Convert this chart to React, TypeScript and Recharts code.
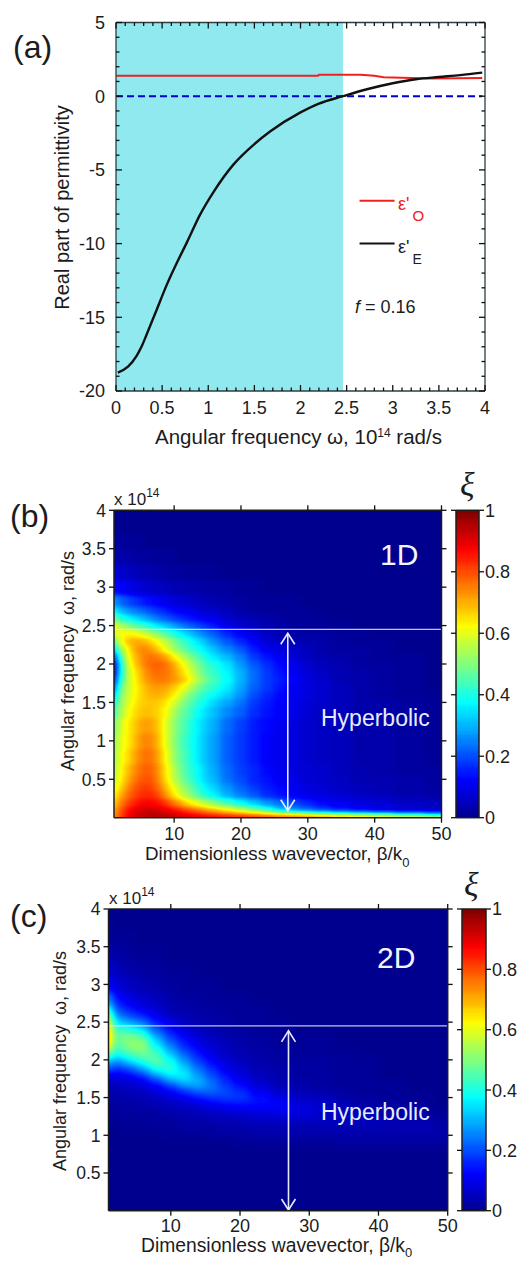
import { ComposedChart, Line, ReferenceArea, ReferenceLine, Scatter, ScatterChart, XAxis, YAxis } from 'recharts';

// panel (a)
const redOmega = [0, 0.5, 1, 1.5, 2.19, 2.2, 2.65, 2.8, 2.9, 3.0, 3.2, 3.4, 3.7, 3.97];
const redEps = [1.38, 1.38, 1.38, 1.38, 1.38, 1.45, 1.45, 1.38, 1.29, 1.27, 1.24, 1.2, 1.22, 1.24];
const blackOmega = [0.02, 0.13, 0.22, 0.28, 0.33, 0.44, 0.55, 0.66, 0.77, 0.91, 1.06, 1.27, 1.5, 1.67, 2, 2.2, 2.46, 2.72, 3, 3.25, 3.5, 3.73, 3.97];
const blackEps = [-18.75, -18.35, -17.65, -16.95, -16.2, -14.5, -12.8, -11.3, -9.9, -8.05, -6.47, -4.66, -3.25, -2.4, -1.1, -0.5, 0, 0.47, 0.88, 1.15, 1.3, 1.43, 1.6];
const aXTicks = [0, 0.1, 0.2, 0.3, 0.4, 0.5, 0.6, 0.7, 0.8, 0.9, 1, 1.1, 1.2, 1.3, 1.4, 1.5, 1.6, 1.7, 1.8, 1.9, 2, 2.1, 2.2, 2.3, 2.4, 2.5, 2.6, 2.7, 2.8, 2.9, 3, 3.1, 3.2, 3.3, 3.4, 3.5, 3.6, 3.7, 3.8, 3.9, 4];
const aXMajor = [0, 0.5, 1, 1.5, 2, 2.5, 3, 3.5, 4];
const aYTicks = [-20, -19, -18, -17, -16, -15, -14, -13, -12, -11, -10, -9, -8, -7, -6, -5, -4, -3, -2, -1, 0, 1, 2, 3, 4, 5];
const aYMajor = [-20, -15, -10, -5, 0, 5];

// panels (b) and (c), rows run upward in omega, values in percent of xi, short rows end in zeros
const betaTicks = [10, 20, 30, 40, 50];
const omegaTicks = [0.5, 1, 1.5, 2, 2.5, 3, 3.5, 4];
const barTicks = [0, 0.2, 0.4, 0.6, 0.8, 1];
const barLevels = [0, 5, 10, 15, 20, 25, 30, 35, 40, 45, 50, 55, 60, 65, 70, 75, 80, 85, 90, 95, 100];

const beta1D = [1, 2, 3, 4, 5, 6, 7, 8, 9, 10, 11, 12, 13, 14, 15, 16, 18, 20, 22, 24, 26, 28, 30, 32, 35, 38, 41, 45, 50];
const omega1D = [0.02, 0.05, 0.1, 0.2, 0.3, 0.4, 0.5, 0.6, 0.8, 1, 1.2, 1.4, 1.5, 1.6, 1.7, 1.8, 1.9, 2, 2.1, 2.2, 2.3, 2.4, 2.5, 2.6, 2.7, 2.8, 3, 3.2, 3.4, 3.6, 3.8, 4];
const xi1D = [
  [72, 80, 87, 91, 93, 94, 95, 95, 95, 94, 93, 92, 91, 90, 89, 88, 86, 85, 83, 81, 79, 78, 76, 74, 72, 70, 67, 64, 60],
  [72, 80, 87, 91, 93, 94, 94, 94, 93, 92, 90, 88, 87, 85, 83, 82, 79, 76, 73, 69, 66, 63, 60, 57, 52, 47, 43, 38, 32],
  [70, 78, 85, 89, 91, 92, 92, 91, 89, 86, 83, 80, 77, 74, 71, 68, 63, 57, 50, 42, 33, 27, 23, 19, 15, 12, 10, 8, 7],
  [66, 74, 80, 84, 87, 88, 87, 85, 81, 76, 71, 66, 62, 58, 54, 50, 44, 38, 32, 27, 23, 19, 16, 13, 11, 9, 8, 6, 5],
  [62, 70, 76, 80, 83, 84, 83, 79, 72, 65, 59, 54, 49, 44, 40, 36, 30, 25, 21, 17, 14, 12, 10, 9, 8, 6, 5, 4, 3],
  [58, 66, 73, 78, 81, 82, 80, 75, 68, 61, 55, 50, 45, 40, 36, 33, 27, 22, 18, 15, 13, 11, 9, 8, 6, 5, 4, 3, 2],
  [55, 63, 70, 75, 79, 80, 78, 72, 64, 57, 51, 46, 41, 37, 33, 30, 24, 20, 16, 14, 11, 10, 8, 7, 6, 4, 4, 3, 2],
  [53, 62, 68, 73, 77, 79, 77, 71, 63, 56, 49, 44, 40, 36, 32, 29, 23, 19, 16, 13, 11, 9, 8, 7, 5, 4, 3, 2, 2],
  [51, 61, 65, 70, 75, 77, 75, 69, 61, 53, 47, 43, 38, 34, 31, 28, 22, 18, 15, 12, 10, 9, 7, 6, 5, 3, 3, 2, 1],
  [50, 60, 63, 68, 73, 75, 73, 67, 59, 52, 46, 42, 38, 34, 31, 28, 22, 18, 15, 12, 10, 9, 7, 6, 5, 3, 3, 2, 1],
  [47, 58, 63, 67, 71, 72, 71, 66, 59, 52, 47, 43, 39, 35, 32, 29, 23, 19, 15, 13, 11, 9, 7, 6, 5, 3, 3, 2, 1],
  [42, 54, 60, 65, 68, 69, 68, 66, 61, 55, 49, 45, 41, 37, 34, 31, 26, 22, 17, 14, 12, 10, 8, 6, 5, 3, 3, 2, 1],
  [36, 52, 58, 63, 67, 68, 68, 67, 64, 59, 53, 48, 44, 40, 37, 33, 29, 24, 18, 15, 12, 10, 8, 7, 5, 3, 3, 2, 1],
  [28, 50, 57, 62, 66, 69, 70, 70, 68, 64, 58, 52, 47, 43, 40, 37, 33, 27, 20, 16, 13, 11, 9, 7, 5, 3, 2, 1, 1],
  [20, 46, 56, 61, 66, 70, 72, 72, 71, 68, 64, 58, 53, 48, 44, 41, 36, 29, 22, 18, 14, 11, 9, 7, 5, 3, 2, 1],
  [12, 40, 55, 62, 68, 73, 75, 76, 75, 73, 70, 65, 59, 53, 48, 44, 38, 30, 23, 18, 15, 12, 9, 7, 4, 3, 2, 1],
  [8, 36, 54, 63, 69, 74, 77, 77, 76, 73, 68, 62, 56, 50, 45, 42, 37, 30, 23, 18, 14, 11, 8, 6, 4, 3, 2, 1],
  [8, 36, 56, 66, 72, 76, 78, 78, 76, 71, 65, 59, 53, 48, 43, 40, 35, 28, 21, 17, 13, 10, 7, 5, 4, 2, 2, 1],
  [16, 42, 59, 68, 73, 76, 76, 74, 70, 64, 58, 53, 48, 43, 39, 35, 31, 25, 18, 14, 11, 8, 6, 4, 3, 2, 1, 1],
  [30, 52, 62, 70, 74, 74, 71, 66, 60, 54, 49, 45, 41, 38, 35, 31, 26, 21, 15, 11, 9, 7, 5, 3, 2, 2, 1],
  [45, 60, 68, 71, 71, 69, 65, 60, 55, 50, 45, 41, 37, 34, 30, 26, 21, 16, 12, 8, 6, 5, 4, 3, 2, 1, 1],
  [58, 62, 63, 63, 60, 57, 53, 49, 45, 41, 37, 34, 30, 27, 24, 21, 16, 12, 9, 6, 4, 3, 2, 2, 1, 1],
  [62, 55, 52, 48, 45, 42, 38, 35, 32, 29, 26, 23, 21, 19, 17, 15, 11, 8, 6, 4, 3, 2, 1, 1, 1],
  [50, 42, 38, 35, 32, 29, 26, 23, 21, 19, 17, 15, 14, 12, 11, 10, 7, 5, 4, 3, 2, 1, 1, 1],
  [38, 31, 28, 25, 23, 21, 19, 17, 15, 13, 12, 11, 10, 8, 7, 7, 5, 3, 2, 1, 1, 1, 1],
  [28, 23, 20, 18, 16, 14, 13, 11, 10, 9, 8, 7, 6, 5, 5, 4, 3, 2, 1, 1, 1, 1],
  [14, 12, 11, 9, 8, 7, 6, 6, 5, 4, 4, 3, 3, 3, 2, 2, 2, 1, 1],
  [8, 7, 6, 5, 4, 4, 3, 3, 2, 2, 2, 1, 1, 1, 1, 1],
  [4, 3, 3, 2, 2, 2, 1, 1, 1, 1],
  [2, 2, 1, 1, 1],
  [1],
  [0],
];

const beta2D = [1, 2, 3, 4, 5, 6, 8, 10, 12, 14, 16, 18, 20, 23, 26, 29, 32, 35, 38, 42, 46, 50];
const omega2D = [0.4, 0.8, 0.9, 1, 1.1, 1.2, 1.3, 1.4, 1.5, 1.6, 1.7, 1.8, 1.9, 2, 2.1, 2.2, 2.3, 2.4, 2.5, 2.6, 2.7, 2.8, 3, 3.2, 3.4, 3.6, 3.8, 4];
const xi2D = [
  [0],
  [0],
  [0, 0, 0, 0, 0, 0, 0, 0, 0, 0, 0, 0, 1, 1, 1, 1, 1, 2, 2, 2, 2, 2],
  [0, 0, 0, 0, 0, 0, 0, 1, 1, 1, 2, 2, 2, 3, 3, 3, 3, 3, 3, 3, 3, 3],
  [0, 0, 1, 1, 1, 1, 1, 1, 2, 2, 2, 3, 3, 4, 4, 4, 4, 4, 4, 4, 4, 3],
  [1, 1, 1, 1, 1, 1, 2, 2, 3, 3, 4, 4, 5, 6, 6, 6, 6, 5, 5, 4, 4, 2],
  [1, 1, 2, 2, 2, 2, 2, 3, 4, 5, 6, 7, 8, 9, 10, 9, 7, 5, 4, 3, 2, 1],
  [2, 2, 2, 2, 3, 3, 4, 5, 6, 8, 10, 12, 13, 13, 12, 9, 7, 5, 3, 2, 1],
  [3, 3, 3, 3, 4, 4, 6, 8, 11, 14, 17, 18, 18, 14, 10, 6, 5, 3, 2, 1, 1],
  [4, 4, 4, 5, 6, 6, 9, 13, 18, 23, 23, 20, 16, 10, 6, 4, 3, 2, 1, 1],
  [6, 6, 7, 7, 8, 10, 15, 23, 31, 31, 24, 17, 12, 7, 4, 3, 2, 1, 1, 1],
  [12, 10, 11, 12, 14, 18, 28, 37, 37, 28, 20, 14, 9, 5, 3, 2, 2, 1, 1],
  [22, 18, 19, 22, 26, 31, 41, 42, 33, 23, 16, 10, 7, 4, 3, 2, 2, 1, 1],
  [35, 28, 31, 35, 39, 43, 47, 39, 27, 18, 12, 8, 5, 3, 2, 2, 2, 1, 1],
  [55, 38, 43, 46, 48, 49, 44, 31, 21, 14, 9, 6, 4, 3, 2, 1, 1, 1],
  [70, 43, 48, 51, 53, 52, 37, 25, 16, 11, 7, 5, 3, 2, 1, 1, 1],
  [74, 46, 49, 51, 50, 46, 30, 19, 13, 8, 6, 4, 3, 2, 1, 1, 1],
  [72, 44, 44, 42, 40, 35, 22, 14, 9, 6, 4, 3, 2, 1, 1],
  [68, 36, 32, 30, 27, 24, 15, 10, 6, 4, 3, 2, 1, 1, 1],
  [58, 27, 23, 20, 17, 15, 10, 6, 4, 3, 2, 2, 1, 1],
  [42, 20, 17, 14, 12, 10, 7, 4, 3, 2, 2, 1, 1, 1],
  [28, 15, 12, 10, 8, 7, 5, 3, 2, 2, 1, 1, 1],
  [13, 9, 7, 6, 5, 4, 3, 2, 1, 1, 1],
  [7, 5, 4, 3, 3, 2, 2, 1, 1],
  [4, 3, 2, 2, 1, 1, 1],
  [2, 1, 1, 1],
  [1],
  [0],
];

const FONT = '"Liberation Sans", Arial, sans-serif';
const INK = '#1c1c1c';

// jet lookup applied to grey levels, so the blur happens in value space
const JET_R = '0 0 0 0 .5 1 1 1 .5';
const JET_G = '0 0 .5 1 1 1 .5 0 0';
const JET_B = '.56 1 1 1 .5 0 0 0 0';

type TickOpts = { side: 'left' | 'right' | 'top' | 'bottom'; major?: number[]; labels?: boolean; inward?: boolean; long?: number; short?: number; gap?: number; size?: number };

const makeTick = ({ side, major, labels, inward, long = 5, short = 3.5, gap = 8, size = 18 }: TickOpts) => (p: any) => {
  const v = p.payload.value;
  const isMajor = !major || major.includes(v);
  const len = isMajor ? long : short;
  const thick = 1.3;
  const horizontal = side === 'left' || side === 'right';
  // which way the mark runs off the axis line
  const goesNegative = side === 'left' || side === 'top' ? !inward : !!inward;
  const mark = horizontal
    ? { x: goesNegative ? p.x - len : p.x, y: p.y - thick / 2, width: len, height: thick }
    : { x: p.x - thick / 2, y: goesNegative ? p.y - len : p.y, width: thick, height: len };
  let label = null;
  if (labels && isMajor) {
    if (side === 'bottom') label = <text x={p.x} y={p.y + gap} textAnchor="middle" fontSize={size} fill={INK} fontFamily={FONT}>{String(v)}</text>;
    else label = <text x={side === 'left' ? p.x - gap : p.x + gap} y={p.y + size * 0.36} textAnchor={side === 'left' ? 'end' : 'start'} fontSize={size} fill={INK} fontFamily={FONT}>{String(v)}</text>;
  }
  return (
    <g>
      <rect {...mark} fill="#111" />
      {label}
    </g>
  );
};

function buildCells(cols: number[], rows: number[], table: number[][], padX: number, padY: number) {
  const cells: any[] = [];
  rows.forEach((w, i) => {
    cols.forEach((b, j) => {
      cells.push({
        beta: b,
        omega: w,
        v: (table[i][j] ?? 0) / 100,
        x0: j === 0 ? b - padX : (cols[j - 1] + b) / 2,
        x1: j === cols.length - 1 ? b + padX : (cols[j + 1] + b) / 2,
        y0: i === 0 ? w - padY : (rows[i - 1] + w) / 2,
        y1: i === rows.length - 1 ? w + padY : (rows[i + 1] + w) / 2,
      });
    });
  });
  return cells;
}

const cellShape = (sx: number, sy: number) => (p: any) => {
  const d = p.payload;
  const g = Math.round(d.v * 255);
  return (
    <rect
      x={p.cx - (d.beta - d.x0) * sx - 0.5}
      y={p.cy - (d.y1 - d.omega) * sy - 0.5}
      width={(d.x1 - d.x0) * sx + 1}
      height={(d.y1 - d.y0) * sy + 1}
      fill={`rgb(${g},${g},${g})`}
    />
  );
};

function HeatDefs({ id, w, h, box, blur }: { id: string; w: number; h: number; box: number[]; blur: string }) {
  return (
    <svg width={0} height={0} style={{ position: 'absolute' }}>
      <defs>
        <filter id={`f-${id}`} filterUnits="userSpaceOnUse" x={0} y={0} width={w} height={h} colorInterpolationFilters="sRGB">
          <feGaussianBlur stdDeviation={blur} />
          <feComponentTransfer>
            <feFuncR type="table" tableValues={JET_R} />
            <feFuncG type="table" tableValues={JET_G} />
            <feFuncB type="table" tableValues={JET_B} />
          </feComponentTransfer>
        </filter>
        <clipPath id={`c-${id}`}>
          <rect x={box[0]} y={box[1]} width={box[2] - box[0]} height={box[3] - box[1]} />
        </clipPath>
      </defs>
    </svg>
  );
}

const ArrowShape = (p: any) => (
  <g fill="none" stroke="#e6ecfb" strokeWidth={1.6}>
    <line x1={p.x1} y1={p.y1} x2={p.x2} y2={p.y2} />
    <polyline points={`${p.x1 - 7},${p.y1 + 11} ${p.x1},${p.y1} ${p.x1 + 7},${p.y1 + 11}`} />
    <polyline points={`${p.x2 - 7},${p.y2 - 11} ${p.x2},${p.y2} ${p.x2 + 7},${p.y2 - 11}`} />
  </g>
);

const noMark = () => null;

type HeatProps = {
  id: string; top: number; height: number; left: number; right: number; plotTop: number; plotBottom: number;
  barLeft: number; barRight: number; cols: number[]; rows: number[]; table: number[][]; arrow: number[]; blur: string; tickGap: number;
};

function HeatPanel({ id, top, height, left, right, plotTop, plotBottom, barLeft, barRight, cols, rows, table, arrow, blur, tickGap }: HeatProps) {
  const W = 517;
  const sx = (right - left) / 49;
  const sy = (plotBottom - plotTop) / 4;
  const cells = buildCells(cols, rows, table, 5, 0.5);
  const barCells = buildCells([0.5], barLevels.map((l) => l / 100), barLevels.map((l) => [l]), 3, 0.1);
  const axisStyle = { stroke: INK, strokeWidth: 1.5 };
  const layer = { position: 'absolute', left: 0, top: 0 } as const;
  const zero = { top: 0, right: 0, bottom: 0, left: 0 };
  const anchor = [{ beta: 1, omega: 1 }];
  const barAnchor = [{ beta: 0.5, omega: 0.5 }];
  return (
    <div className={`panel-${id}`} style={{ position: 'absolute', left: 0, top, width: W, height }}>
      <HeatDefs id={id} w={W} h={height} box={[left, plotTop, right, plotBottom]} blur={blur} />
      <HeatDefs id={`${id}bar`} w={W} h={height} box={[barLeft, plotTop, barRight, plotBottom]} blur="5" />
      <style>{`
        .panel-${id} .heat .recharts-scatter { filter: url(#f-${id}); clip-path: url(#c-${id}); }
        .panel-${id} .bar .recharts-scatter { filter: url(#f-${id}bar); clip-path: url(#c-${id}bar); }
      `}</style>
      {/* cells first, axes and lines in a chart on top of them */}
      <div className="heat" style={layer}>
        <ScatterChart width={W} height={height} margin={{ top: plotTop, right: W - right, bottom: height - plotBottom, left }}>
          <XAxis hide dataKey="beta" type="number" domain={[1, 50]} />
          <YAxis hide dataKey="omega" type="number" domain={[0, 4]} />
          <Scatter data={cells} isAnimationActive={false} shape={cellShape(sx, sy)} />
        </ScatterChart>
      </div>
      <div className="bar" style={layer}>
        <ScatterChart width={W} height={height} margin={{ top: plotTop, right: W - barRight, bottom: height - plotBottom, left: barLeft }}>
          <XAxis hide dataKey="beta" type="number" domain={[0, 1]} />
          <YAxis hide dataKey="omega" type="number" domain={[0, 1]} />
          <Scatter data={barCells} isAnimationActive={false} shape={cellShape(barRight - barLeft, plotBottom - plotTop)} />
        </ScatterChart>
      </div>
      <div style={layer}>
        <ScatterChart width={W} height={height} margin={zero}>
          <XAxis xAxisId="b" dataKey="beta" type="number" orientation="bottom" domain={[1, 50]} ticks={betaTicks} interval={0} height={height - plotBottom} tickSize={0} tickMargin={0} tickLine={false} axisLine={axisStyle} tick={makeTick({ side: 'bottom', labels: true, gap: tickGap })} />
          <XAxis xAxisId="t" dataKey="beta" type="number" orientation="top" domain={[1, 50]} ticks={betaTicks} interval={0} height={plotTop} tickSize={0} tickMargin={0} tickLine={false} axisLine={axisStyle} tick={makeTick({ side: 'top' })} />
          <YAxis yAxisId="l" dataKey="omega" type="number" orientation="left" domain={[0, 4]} ticks={omegaTicks} interval={0} width={left} tickSize={0} tickMargin={0} tickLine={false} axisLine={axisStyle} tick={makeTick({ side: 'left', labels: true, gap: 8, size: 17.5 })} />
          <YAxis yAxisId="r" dataKey="omega" type="number" orientation="right" domain={[0, 4]} ticks={omegaTicks} interval={0} width={W - right} tickSize={0} tickMargin={0} tickLine={false} axisLine={axisStyle} tick={makeTick({ side: 'right' })} />
          <Scatter xAxisId="b" yAxisId="l" data={anchor} isAnimationActive={false} shape={noMark} />
          <Scatter xAxisId="t" yAxisId="r" data={anchor} isAnimationActive={false} shape={noMark} />
          <ReferenceLine xAxisId="b" yAxisId="l" y={2.45} stroke="#dfe7f8" strokeOpacity={0.85} strokeWidth={1.2} />
          <ReferenceLine xAxisId="b" yAxisId="l" segment={[{ x: 27, y: arrow[1] }, { x: 27, y: arrow[0] }]} shape={ArrowShape} />
        </ScatterChart>
      </div>
      <div style={layer}>
        <ScatterChart width={W} height={height} margin={zero}>
          <XAxis xAxisId="b" dataKey="beta" type="number" orientation="bottom" domain={[0, 1]} ticks={[]} height={height - plotBottom} tick={false} tickLine={false} axisLine={axisStyle} />
          <XAxis xAxisId="t" dataKey="beta" type="number" orientation="top" domain={[0, 1]} ticks={[]} height={plotTop} tick={false} tickLine={false} axisLine={axisStyle} />
          <YAxis yAxisId="l" dataKey="omega" type="number" orientation="left" domain={[0, 1]} ticks={barTicks} interval={0} width={barLeft} tickSize={0} tickMargin={0} tickLine={false} axisLine={axisStyle} tick={makeTick({ side: 'left' })} />
          <YAxis yAxisId="r" dataKey="omega" type="number" orientation="right" domain={[0, 1]} ticks={barTicks} interval={0} width={W - barRight} tickSize={0} tickMargin={0} tickLine={false} axisLine={axisStyle} tick={makeTick({ side: 'right', labels: true, gap: 6 })} />
          <Scatter xAxisId="b" yAxisId="l" data={barAnchor} isAnimationActive={false} shape={noMark} />
          <Scatter xAxisId="t" yAxisId="r" data={barAnchor} isAnimationActive={false} shape={noMark} />
        </ScatterChart>
      </div>
    </div>
  );
}

function PanelA() {
  const red = redOmega.map((w, i) => ({ omega: w, eps: redEps[i] }));
  const black = blackOmega.map((w, i) => ({ omega: w, eps: blackEps[i] }));
  const anchor = [{ omega: 1, eps: 0 }];
  const axisStyle = { stroke: '#2b3f44', strokeWidth: 1.3 };
  const tickLen = { inward: true, long: 6, short: 3.5 };
  const layer = { position: 'absolute', left: 0, top: 0 } as const;
  const zero = { top: 0, right: 0, bottom: 0, left: 0 };
  return (
    <div style={layer}>
      <div style={layer}>
        <ComposedChart width={517} height={450} margin={{ top: 22.5, right: 32, bottom: 59, left: 116 }}>
          <XAxis hide dataKey="omega" type="number" domain={[0, 4]} />
          <YAxis hide dataKey="eps" type="number" domain={[-20, 5]} />
          <Scatter data={anchor} isAnimationActive={false} shape={noMark} />
          <ReferenceArea x1={0} x2={2.46} y1={-20} y2={5} fill="#91e9f0" fillOpacity={1} stroke="none" />
        </ComposedChart>
      </div>
      <div style={layer}>
        <ComposedChart width={517} height={450} margin={zero}>
          <XAxis xAxisId="b" dataKey="omega" type="number" orientation="bottom" domain={[0, 4]} ticks={aXTicks} interval={0} height={59} tickSize={0} tickMargin={0} tickLine={false} axisLine={axisStyle} tick={makeTick({ side: 'bottom', major: aXMajor, labels: true, gap: 23, ...tickLen })} />
          <XAxis xAxisId="t" dataKey="omega" type="number" orientation="top" domain={[0, 4]} ticks={aXTicks} interval={0} height={22.5} tickSize={0} tickMargin={0} tickLine={false} axisLine={axisStyle} tick={makeTick({ side: 'top', major: aXMajor, ...tickLen })} />
          <YAxis yAxisId="l" dataKey="eps" type="number" orientation="left" domain={[-20, 5]} ticks={aYTicks} interval={0} width={116} tickSize={0} tickMargin={0} tickLine={false} axisLine={axisStyle} tick={makeTick({ side: 'left', major: aYMajor, labels: true, gap: 11, ...tickLen })} />
          <YAxis yAxisId="r" dataKey="eps" type="number" orientation="right" domain={[-20, 5]} ticks={aYTicks} interval={0} width={32} tickSize={0} tickMargin={0} tickLine={false} axisLine={axisStyle} tick={makeTick({ side: 'right', major: aYMajor, ...tickLen })} />
          <Scatter xAxisId="t" yAxisId="r" data={anchor} isAnimationActive={false} shape={noMark} />
          <ReferenceLine xAxisId="b" yAxisId="l" segment={[{ x: 0, y: 0 }, { x: 3.97, y: 0 }]} stroke="#0000cc" strokeWidth={2} strokeDasharray="7 4" />
          <Line xAxisId="b" yAxisId="l" data={red} dataKey="eps" stroke="#f02020" strokeWidth={2} dot={false} isAnimationActive={false} type="linear" />
          <Line xAxisId="b" yAxisId="l" data={black} dataKey="eps" stroke="#111" strokeWidth={2.4} dot={false} isAnimationActive={false} type="monotone" />
          <ReferenceLine xAxisId="b" yAxisId="l" segment={[{ x: 2.64, y: -7.1 }, { x: 3.02, y: -7.1 }]} stroke="#f02020" strokeWidth={2} />
          <ReferenceLine xAxisId="b" yAxisId="l" segment={[{ x: 2.64, y: -10 }, { x: 3.02, y: -10 }]} stroke="#111" strokeWidth={2} />
        </ComposedChart>
      </div>
    </div>
  );
}

function Labels() {
  const t = { fontFamily: FONT, fill: INK };
  return (
    <svg width={517} height={1261} style={{ position: 'absolute', left: 0, top: 0, pointerEvents: 'none' }}>
      {/* panel a */}
      <text x={13} y={58} fontSize={32} {...t}>(a)</text>
      <text x={63} y={207.5} fontSize={20} textAnchor="middle" transform="rotate(-90 63 207.5) translate(0 6)" {...t}>Real part of permittivity</text>
      <text x={155} y={444} fontSize={20.5} {...t}>
        Angular frequency ω, 10<tspan dy={-7} fontSize={12}>14</tspan><tspan dy={7}> rad/s</tspan>
      </text>
      <text x={398} y={210} fontSize={18} fontFamily={FONT} fill="#f02020">
        ε'<tspan dx={3} dy={11} fontSize={15}>O</tspan>
      </text>
      <text x={398} y={253} fontSize={18} {...t}>
        ε'<tspan dx={3} dy={11} fontSize={14}>E</tspan>
      </text>
      <text x={355} y={313} fontSize={18} {...t}>
        <tspan fontStyle="italic">f</tspan> = 0.16
      </text>
      {/* panel b */}
      <text x={10} y={527} fontSize={32} {...t}>(b)</text>
      <text x={114} y={505} fontSize={17} {...t}>
        x 10<tspan dy={-8} fontSize={12}>14</tspan>
      </text>
      <text x={68} y={661} fontSize={18} textAnchor="middle" transform="rotate(-90 68 661) translate(0 6)" xmlSpace="preserve" {...t}>Angular frequency  ω, rad/s</text>
      <text x={145} y={860} fontSize={18.8} {...t}>
        Dimensionless wavevector, β/k<tspan dy={7} fontSize={13}>0</tspan>
      </text>
      <text x={380} y={565} fontSize={30} fontFamily={FONT} fill="#f2f5ff">1D</text>
      <text x={321} y={726} fontSize={23} fontFamily={FONT} fill="#e6ecfb">Hyperbolic</text>
      <text x={460} y={496} fontSize={34} fontStyle="italic" fontFamily='"Liberation Serif", serif' fill={INK}>ξ</text>
      {/* panel c */}
      <text x={10} y={927} fontSize={32} {...t}>(c)</text>
      <text x={109} y={904} fontSize={17} {...t}>
        x 10<tspan dy={-8} fontSize={12}>14</tspan>
      </text>
      <text x={60} y={1061} fontSize={18} textAnchor="middle" transform="rotate(-90 60 1061) translate(0 6)" xmlSpace="preserve" {...t}>Angular frequency  ω, rad/s</text>
      <text x={141} y={1252} fontSize={19.3} {...t}>
        Dimensionless wavevector, β/k<tspan dy={5} fontSize={13}>0</tspan>
      </text>
      <text x={377} y={968} fontSize={30} fontFamily={FONT} fill="#f2f5ff">2D</text>
      <text x={321} y={1120} fontSize={23} fontFamily={FONT} fill="#e6ecfb">Hyperbolic</text>
      <text x={464} y={896} fontSize={34} fontStyle="italic" fontFamily='"Liberation Serif", serif' fill={INK}>ξ</text>
    </svg>
  );
}

export default function App() {
  return (
    <div style={{ position: 'absolute', left: 0, top: 0, width: 517, height: 1261, overflow: 'hidden', background: '#fff' }}>
      <PanelA />
      <HeatPanel id="b" top={470} height={400} left={114} right={441.5} plotTop={40.3} plotBottom={347.7} barLeft={456} barRight={479} cols={beta1D} rows={omega1D} table={xi1D} arrow={[0.09, 2.4]} blur="3.5 2" tickGap={22} />
      <HeatPanel id="c" top={870} height={391} left={108.5} right={447.7} plotTop={39} plotBottom={340.7} barLeft={462} barRight={486} cols={beta2D} rows={omega2D} table={xi2D} arrow={[0.01, 2.385]} blur="4 3.5" tickGap={21} />
      <Labels />
    </div>
  );
}
